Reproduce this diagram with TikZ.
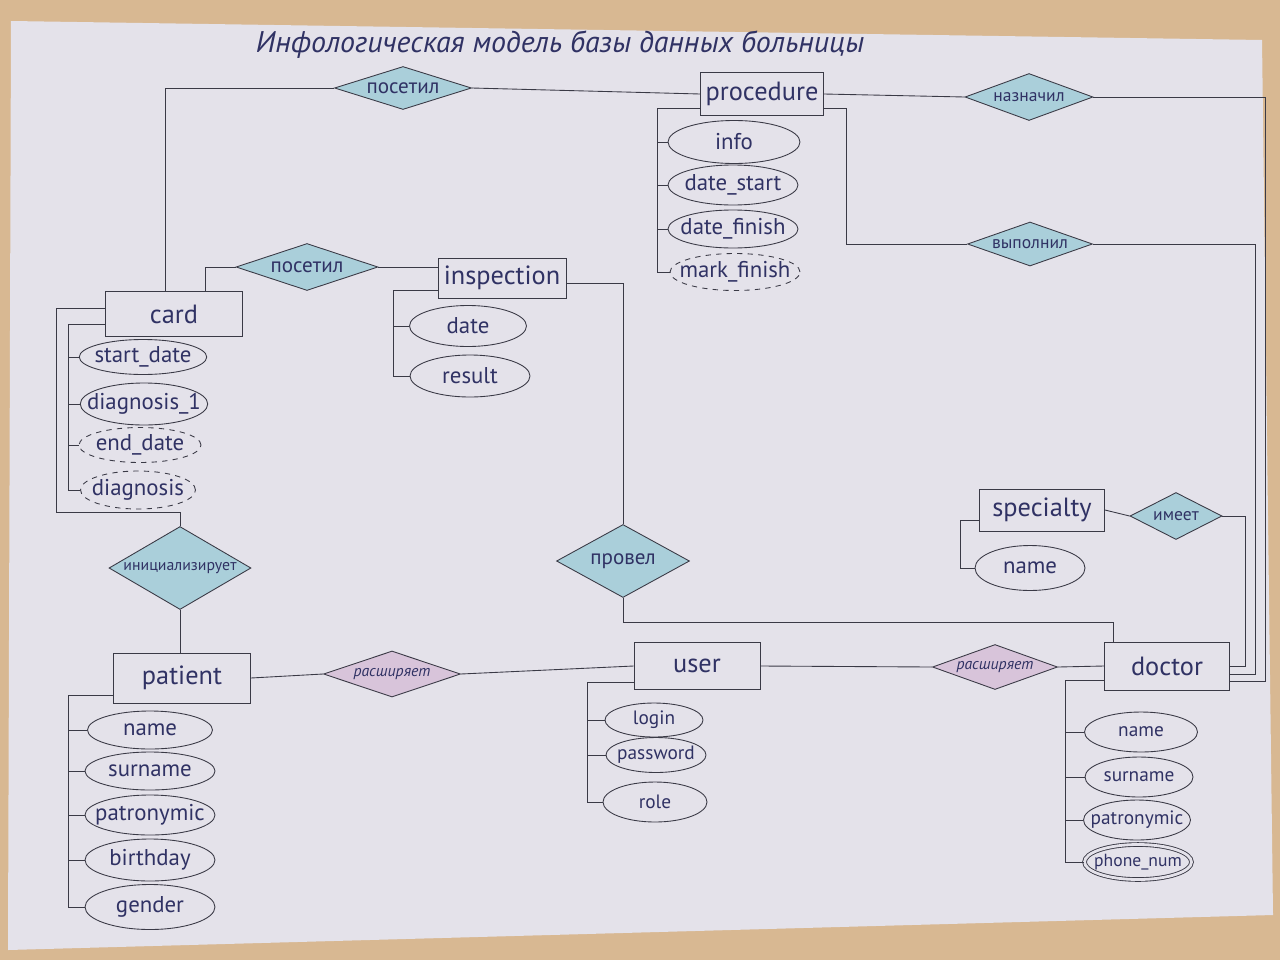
\documentclass[tikz,border=0pt]{standalone}
\usepackage{fontspec}
\setmainfont{PT Sans}
\usepackage{tikz}
\usetikzlibrary{calc,positioning,shapes.geometric}
\definecolor{papercol}{RGB}{228,226,234}
\definecolor{woodcol}{RGB}{216,184,146}
\definecolor{inkcol}{RGB}{58,58,70}
\definecolor{textcol}{RGB}{48,50,100}
\definecolor{relcol}{RGB}{170,207,218}
\definecolor{extcol}{RGB}{216,196,218}
\newcommand{\relsmall}{\fontsize{10}{12}\selectfont}
\newcommand{\reltiny}{\fontsize{9}{11}\selectfont}

\begin{document}
\begin{tikzpicture}[x=0.02cm,y=-0.02cm,
  wire/.style={draw=inkcol,line width=0.5pt},
  entity/.style={wire,fill=papercol,inner sep=0pt,text=textcol,font=\fontsize{15}{18}\selectfont},
  attrtext/.style={text=textcol,inner sep=0pt,font=\fontsize{13}{15}\selectfont},
  attr/.style={ellipse,wire,inner sep=0pt,minimum width=2.55cm,minimum height=0.8cm,label={[attrtext]center:#1}},
  weakattr/.style={attr=#1,dashed},
  multiattr/.style={attr=#1,double=papercol,double distance=1.6pt},
  reltext/.style={text=textcol,inner sep=0pt,font=\fontsize{12}{14}\selectfont},
  rel/.style={diamond,wire,fill=relcol,inner sep=0pt,label={[reltext]center:#1}},
  extrel/.style={diamond,wire,fill=extcol,inner sep=0pt,label={[reltext]center:\reltiny\itshape #1}}]
\useasboundingbox (0,0) rectangle (1280,960);
% ---- sheet of paper on the desk ----
\fill[woodcol] (0,0) rectangle (1280,960);
\fill[papercol] (11,21) -- (1262,40) -- (1273,915) -- (8,950) -- cycle;
\node[text=textcol,font=\fontsize{17}{20}\selectfont\itshape] (title) at (560,45) {Инфологическая модель базы данных больницы};

% ---- entities ----
\node[entity,minimum width=2.46cm,minimum height=0.86cm] (procedure) at (762,94) {procedure};
\node[entity,minimum width=2.74cm,minimum height=0.9cm] (card) at (174,314) {card};
\node[entity,minimum width=2.56cm,minimum height=0.8cm] (inspection) at (502,278) {inspection};
\node[entity,minimum width=2.5cm,minimum height=0.84cm] (specialty) at (1042,510) {specialty};
\node[entity,minimum width=2.74cm,minimum height=1cm] (patient) at (182,678) {patient};
\node[entity,minimum width=2.52cm,minimum height=0.94cm] (user) at (697,666) {user};
\node[entity,minimum width=2.5cm,minimum height=0.96cm] (doctor) at (1167,666) {doctor};

% ---- relationships ----
\node[rel=посетил,minimum width=2.74cm,minimum height=0.86cm] (visitTop) at (403,88) {};
\node[rel=\relsmall назначил,minimum width=2.56cm,minimum height=0.94cm] (assign) at (1029,97) {};
\node[rel=\relsmall выполнил,minimum width=2.5cm,minimum height=0.88cm] (perform) at (1030,244) {};
\node[rel=посетил,minimum width=2.84cm,minimum height=0.94cm] (visitInsp) at (307,267) {};
\node[rel=\reltiny инициализирует,minimum width=2.84cm,minimum height=1.66cm] (init) at (180,568) {};
\node[rel=провел,minimum width=2.66cm,minimum height=1.46cm] (conducted) at (623,561) {};
\node[rel=\relsmall имеет,minimum width=1.84cm,minimum height=0.94cm] (has) at (1176,516) {};
\node[extrel=расширяет,minimum width=2.74cm,minimum height=0.92cm] (extL) at (392,674) {};
\node[extrel=расширяет,minimum width=2.5cm,minimum height=0.9cm] (extR) at (995,667) {};

% ---- attributes ----
\node[attr=info,minimum width=2.64cm,minimum height=0.86cm] (info) at (734,142) {};
\node[attr=date\_start,minimum width=2.6cm] (datestart) at (733,185) {};
\node[attr=date\_finish,minimum width=2.6cm,minimum height=0.76cm] (datefinish) at (733,229) {};
\node[weakattr=mark\_finish,minimum width=2.6cm,minimum height=0.74cm] (markfinish) at (735,272) {};
\node[attr=start\_date,minimum height=0.7cm] (startdate) at (143,357) {};
\node[attr=diagnosis\_1,minimum height=0.84cm] (diagone) at (144,404) {};
\node[weakattr=end\_date,minimum width=2.44cm,minimum height=0.7cm] (enddate) at (140,445) {};
\node[weakattr=diagnosis,minimum width=2.3cm,minimum height=0.76cm] (diag) at (138,490) {};
\node[attr=date,minimum width=2.34cm,minimum height=0.82cm] (insdate) at (468,326) {};
\node[attr=result,minimum width=2.4cm,minimum height=0.84cm] (result) at (470,376) {};
\node[attr=name,minimum width=2.2cm,minimum height=0.9cm] (specname) at (1030,568) {};
\node[attr=name,minimum width=2.5cm,minimum height=0.76cm] (pname) at (150,730) {};
\node[attr=surname,minimum width=2.6cm,minimum height=0.76cm] (psurname) at (150,771) {};
\node[attr=patronymic,minimum width=2.6cm] (ppatr) at (150,815) {};
\node[attr=birthday,minimum width=2.6cm,minimum height=0.84cm] (pbirth) at (150,860) {};
\node[attr=gender,minimum width=2.6cm,minimum height=0.9cm] (pgender) at (150,907) {};
\begin{scope}[attrtext/.append style={font=\fontsize{11}{13}\selectfont}]
\node[attr=login,minimum width=1.96cm,minimum height=0.68cm] (login) at (654,720) {};
\node[attr=password,minimum width=2cm,minimum height=0.7cm] (password) at (656,755) {};
\node[attr=role,minimum width=2.08cm] (role) at (655,802) {};
\node[attr=name,minimum width=2.26cm] (dname) at (1141,732) {};
\node[attr=surname,minimum width=2.16cm] (dsurname) at (1139,777) {};
\node[attr=patronymic,minimum width=2.14cm] (dpatr) at (1137,820) {};
\node[multiattr=\fontsize{10}{12}\selectfont phone\_num,minimum width=2.14cm,minimum height=0.7cm] (dphone) at (1138,862) {};
\end{scope}

% ---- procedure links ----
\draw[wire] ([xshift=-0.18cm]card.north) |- (visitTop.west);
\draw[wire] (visitTop.east) -- (procedure.west);
\draw[wire] (procedure.east) -- (assign.west);
\draw[wire] (assign.east) -| ($(doctor.east)+(35,15)$) -- ($(doctor.east)+(0,15)$);
\draw[wire] ($(procedure.east)+(0,14)$) -- ++(22,0) |- (perform.west);
\draw[wire] (perform.east) -| ($(doctor.east)+(25,8)$) -- ($(doctor.east)+(0,8)$);
\coordinate (procbar) at (657,108);
\draw[wire] ($(procedure.west)+(0,14)$) -- (procbar) |- (markfinish.west);
\foreach \a in {info,datestart,datefinish} \draw[wire] (procbar |- \a.west) -- (\a.west);

% ---- card and inspection ----
\coordinate (cardbar) at (68,324);
\draw[wire] ($(card.west)+(0,10)$) -- (cardbar) |- (diag.west);
\foreach \a in {startdate,diagone,enddate} \draw[wire] (cardbar |- \a.west) -- (\a.west);
\coordinate (cardout) at (56,512);
\draw[wire] ($(card.west)+(0,-6)$) -| (cardout) -| (init.north);
\draw[wire] ([xshift=0.62cm]card.north) |- (visitInsp.west);
\draw[wire] (visitInsp.east) -- (visitInsp.east -| inspection.west);
\coordinate (insbar) at (393,290);
\draw[wire] ($(inspection.west)+(0,12)$) -- (insbar) |- (result.west);
\draw[wire] (insbar |- insdate.west) -- (insdate.west);
\draw[wire] ($(inspection.east)+(0,5)$) -| (conducted.north);
\coordinate (docbend) at (1113,622);
\draw[wire] (conducted.south) |- (docbend) -- (docbend |- doctor.north);

% ---- patient, user, doctor ----
\draw[wire] (init.south) -- (init.south |- patient.north);
\draw[wire] (patient.east) -- (extL.west);
\draw[wire] (extL.east) -- (user.west);
\draw[wire] (user.east) -- (extR.west);
\draw[wire] (extR.east) -- (doctor.west);
\coordinate (patbar) at (68,695);
\draw[wire] ($(patient.west)+(0,17)$) -- (patbar) |- (pgender.west);
\foreach \a in {pname,psurname,ppatr,pbirth} \draw[wire] (patbar |- \a.west) -- (\a.west);
\coordinate (userbar) at (587,682);
\draw[wire] ($(user.west)+(0,16)$) -- (userbar) |- (role.west);
\foreach \a in {login,password} \draw[wire] (userbar |- \a.west) -- (\a.west);
\coordinate (docbar) at (1065,680);
\draw[wire] ($(doctor.west)+(0,14)$) -- (docbar) |- (dphone.west);
\foreach \a in {dname,dsurname,dpatr} \draw[wire] (docbar |- \a.west) -- (\a.west);

% ---- specialty ----
\draw[wire] (specialty.east) -- (has.west);
\draw[wire] (has.east) -| ($(doctor.east)+(15,0)$) -- (doctor.east);
\coordinate (specbar) at (960,520);
\draw[wire] ($(specialty.west)+(0,10)$) -- (specbar) |- (specname.west);
\end{tikzpicture}
\end{document}
